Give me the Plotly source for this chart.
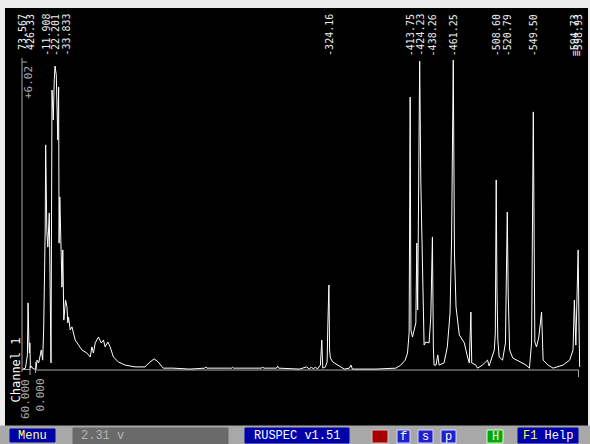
import plotly.graph_objects as go

W, H = 590, 444

# ---- spectrum data: frequency vs. amplitude (% of full scale) ----
freq = [
    -13.2, -10.4, -8.2, -7.5, -6.6, -6.0, -5.5, -4.9, -3.8, -2.7, -0.5, 1.3,
    2.4, 4.2, 7.1, 8.6, 9.7, 10.8, 11.4, 11.908, 13.2, 14.3, 15.9, 17.0, 17.8,
    18.9, 20.3, 21.4, 22.201, 23.6, 25.3, 26.2, 26.7, 27.5, 28.6, 29.9, 30.8,
    31.9, 33.833, 35.4, 36.3, 37.1, 39.0, 40.9, 44.5, 48.1, 51.9, 57.4, 61.0,
    62.9, 64.6, 66.5, 70.1, 73.1, 75.6, 77.5, 80.4, 83.0, 86.6, 92.1, 99.5,
    110.4, 121.4, 126.9, 131.6, 136.0, 141.5, 152.2,
    170.9, 187.4, 188.5, 189.6, 217.0, 218.1, 219.2, 250.0, 251.1, 252.2,
    266.5, 267.6, 268.7, 291.8, 299.5, 302.7, 304.9, 307.1, 309.3, 311.5,
    314.8, 316.3, 317.4, 320.3, 322.2, 322.9, 324.16, 324.9, 325.8, 328.4,
    332.1, 337.6, 341.2, 346.7, 348.6, 350.0, 376.0, 398.0, 403.5, 408.2,
    410.8, 412.6, 413.75, 414.6, 416.3, 420.0, 421.1, 422.0, 422.9, 424.23,
    425.5, 427.3, 428.4, 429.1, 431.0, 434.6, 436.5, 438.26, 439.3, 440.1,
    442.3, 444.2, 445.6, 451.1, 454.7, 457.7, 459.4, 461.25, 462.6, 464.3,
    467.9, 473.4, 477.0, 478.9, 480.7, 481.6, 486.2, 488.0, 493.5, 499.0,
    500.8, 506.5, 507.6, 508.60, 509.4, 510.4, 511.9, 515.6, 518.8, 520.79,
    521.8, 523.4, 526.8, 534.2, 541.5, 545.2, 547.6, 549.50, 551.2, 553.0,
    555.6, 558.6, 560.3, 565.8, 571.3, 582.3, 589.6, 593.3, 594.73, 596.4,
    598.93, 599.8, 600.6,
]
amp = [
    0.3, 0.6, 4.9, 21.8, 9.7, 5.5, 8.8, 0.6, 1.3, 0.6, 0.3, 0.3,
    3.2, 2.3, 6.5, 3.2, 13.0, 29.2, 45.5, 73.1, 45.0, 39.9, 51.0, 22.7, 2.3,
    90.9, 81.2, 94.2, 98.7, 95.8, 74.7, 91.9, 41.2, 56.2, 45.5, 26.9, 39.0,
    16.2, 22.7, 20.5, 15.3, 17.2, 13.0, 14.0, 9.7, 8.1, 6.5, 5.5, 4.2,
    7.5, 5.5, 8.8, 10.7, 8.8, 9.7, 7.5, 9.1, 7.5, 4.2, 2.6, 1.6,
    1.0, 1.0, 2.6, 3.6, 2.6, 0.6, 0.6,
    0.3, 0.6, 1.0, 0.6, 0.6, 0.9, 0.6, 0.6, 1.0, 0.6,
    0.6, 1.3, 0.6, 0.3, 1.0, 0.3, 1.0, 0.3, 1.0, 0.3,
    1.6, 9.7, 0.6, 1.0, 2.6, 13.6, 27.6, 6.5, 3.9, 2.6,
    1.9, 1.0, 0.3, 0.6, 1.6, 0.3, 0.3, 0.6, 1.6, 3.2,
    5.5, 12.0, 88.6, 13.0, 10.7, 15.3, 41.2, 19.5, 70.5, 100.3,
    60.7, 29.2, 18.5, 8.1, 9.1, 8.8, 17.2, 43.2, 7.5, 1.6,
    1.6, 4.9, 1.6, 2.3, 7.5, 18.5, 42.2, 100.6, 38.0, 20.5,
    11.4, 8.8, 4.2, 2.3, 18.8, 2.3, 1.6, 0.6, 1.6, 3.2,
    1.3, 6.5, 12.0, 61.7, 26.6, 9.7, 4.2, 3.2, 8.8, 51.3,
    25.0, 6.5, 3.9, 2.6, 1.6, 0.6, 8.8, 83.8, 9.1, 7.5,
    10.7, 18.8, 3.2, 1.6, 0.6, 1.6, 3.2, 6.5, 22.7, 8.1,
    39.0, 16.2, 1.0,
]

# ---- peak markers ----
peak_freq = [11.908, 22.201, 33.833, 324.16, 413.75, 424.23, 438.26,
             461.25, 508.60, 520.79, 549.50, 594.73, 598.93]
peak_text = ["-11.908", "-22.201", "-33.833", "-324.16", "-413.75", "-424.23",
             "-438.26", "-461.25", "-508.60", "-520.79", "-549.50",
             "=594.73", "=598.93"]

cursor_text = ["73.567", "426.33"]
scale_top_text = "+6.02"
scale_low_text = ["60.000", "0.000"]
channel_name = "Channel 1"

# ---- screen geometry helpers (pixel -> paper) ----
def fx(p):
    return p / W

def fy(p):
    return 1 - p / H

# frequency axis: 0 at x=34.86 px, 0.9071 px per unit; amplitude: 0 at y=370 px, 3.08 px per unit
X0, XS = 34.86, 0.9071
Y0, YS = 370.0, 3.08
PLOT_L, PLOT_R, PLOT_T, PLOT_B = 5, 588, 8, 426

MONO = "DejaVu Sans Mono"
VGA = "Liberation Mono"
GREY = "#a8a8a8"

fig = go.Figure()
fig.add_trace(go.Scatter(
    x=freq, y=amp, mode="lines",
    line=dict(color="#ffffff", width=1),
    hoverinfo="skip", showlegend=False,
))

shapes = []
ann = []

def line(x0, y0, x1, y1, color=GREY, width=1):
    shapes.append(dict(type="line", xref="paper", yref="paper",
                       x0=fx(x0), y0=fy(y0), x1=fx(x1), y1=fy(y1),
                       line=dict(color=color, width=width), layer="below"))

def rect(x0, y0, x1, y1, fill, border=None):
    shapes.append(dict(type="rect", xref="paper", yref="paper",
                       x0=fx(x0), y0=fy(y0), x1=fx(x1), y1=fy(y1),
                       fillcolor=fill,
                       line=dict(color=border or fill, width=1), layer="above"))

def text(t, x, y, size=12, color="#ffffff", family=VGA, angle=0,
         xanchor="center", yanchor="middle"):
    ann.append(dict(text=t, xref="paper", yref="paper", x=fx(x), y=fy(y),
                    xanchor=xanchor, yanchor=yanchor, showarrow=False,
                    textangle=angle, borderpad=0,
                    font=dict(family=family, size=size, color=color)))

# axes drawn in screen style
line(35, 370, 578.5, 370)
line(578.5, 370, 578.5, 377)
line(22, 58, 22, 372)
line(22, 62, 27, 62)
line(22, 369.5, 30, 369.5)
line(30, 366, 30, 375)
line(35.5, 362, 35.5, 373)

# peak labels, rotated, hanging from the top of the screen
for f, t in zip(peak_freq, peak_text):
    ann.append(dict(text=t, xref="x", yref="paper", x=f, y=fy(13),
                    xanchor="center", yanchor="top", showarrow=False,
                    textangle=-90, borderpad=0,
                    font=dict(family=MONO, size=10, color="#ececec")))

for px, t in zip([22, 30], cursor_text):
    text(t, px, 13, size=10, color="#f4f4f4", family=MONO, angle=-90, yanchor="top")

text(scale_top_text, 28.5, 65, size=11, color=GREY, family=MONO, angle=-90, yanchor="top")
text(scale_low_text[0], 25, 378, size=11, color=GREY, family=MONO, angle=-90, yanchor="top")
text(scale_low_text[1], 40, 378, size=11, color=GREY, family=MONO, angle=-90, yanchor="top")
text(channel_name, 15, 370.5, size=12, color="#ffffff", family=MONO, angle=-90)

# status bar
rect(0, 426, 590, 444, "#a8a8a8")
rect(10, 429, 55, 442, "#0000a8")
text("<span style='color:#ffff55'>M</span>enu", 32.5, 435.5, size=12, color="#ffffa0", family=VGA)
rect(73, 428, 228, 444, "#6a6a6a")
text("2.31 v", 80, 436, size=12, color="#b4b4b4", family=VGA, xanchor="left")
rect(245, 428, 349, 443, "#0000a8")
text("RUSPEC v1.51", 297, 435.5, size=12, color="#ffffff", family=VGA)
rect(372, 430, 388, 443, "#a80000", "#c8c8c8")
for x0, x1, ch in [(397, 410, "f"), (418, 433, "s"), (441, 456, "p")]:
    rect(x0, 430, x1, 443, "#2020d0", "#d8d8ff")
    text(ch, (x0 + x1) / 2, 436.5, size=12, color="#ffffff", family=VGA)
rect(487, 430, 503, 443, "#00a800", "#d8ffd8")
text("H", 495, 436.5, size=12, color="#ffffff", family=VGA)
rect(518, 428, 578, 443, "#0000a8")
text("<span style='color:#ffff55'>F1</span> Help", 548, 435.5, size=12, color="#ffffff", family=VGA)

fig.update_layout(
    width=W, height=H,
    margin=dict(l=0, r=0, t=0, b=0),
    paper_bgcolor="#ececec",
    plot_bgcolor="#000000",
    xaxis=dict(domain=[fx(PLOT_L), fx(PLOT_R)],
               range=[(PLOT_L - X0) / XS, (PLOT_R - X0) / XS],
               visible=False, fixedrange=True),
    yaxis=dict(domain=[fy(PLOT_B), fy(PLOT_T)],
               range=[(Y0 - PLOT_B) / YS, (Y0 - PLOT_T) / YS],
               visible=False, fixedrange=True),
    shapes=shapes,
    annotations=ann,
    showlegend=False,
)

fig.write_html("out.html", config={"displayModeBar": False})
